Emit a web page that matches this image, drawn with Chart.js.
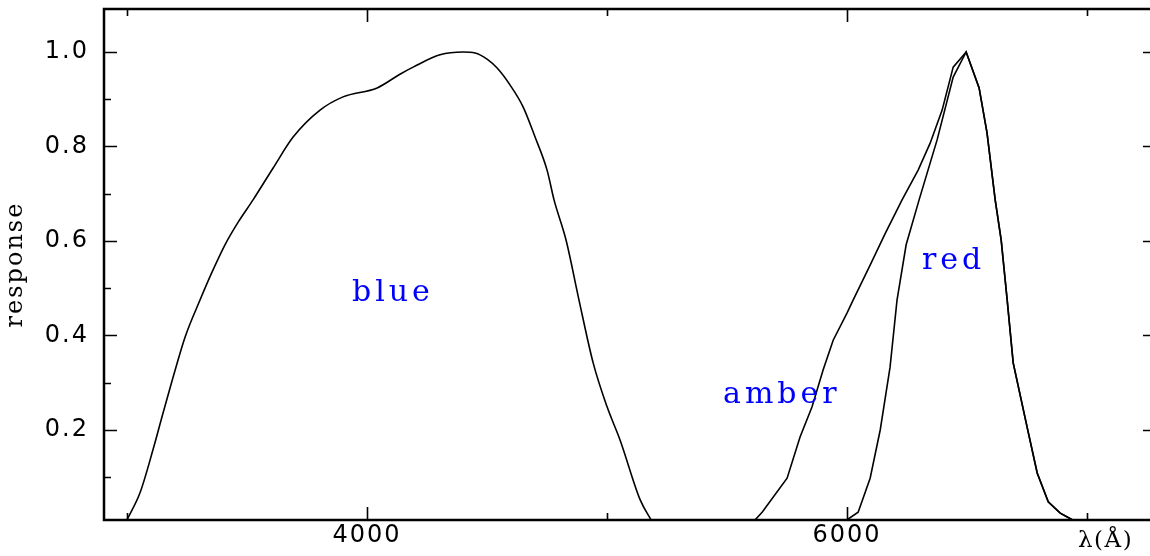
<!DOCTYPE html>
<html>
<head>
<meta charset="utf-8">
<title>Filter response</title>
<script src="https://cdn.jsdelivr.net/npm/chart.js@4.4.0/dist/chart.umd.min.js"></script>
<style>
  html, body { margin: 0; padding: 0; background: #fff; }
  #wrap { width: 1150px; height: 556px; position: relative; }
</style>
</head>
<body>
<div id="wrap"><canvas id="filterChart"></canvas></div>
<script>
// Filter response curves, wavelength in Angstrom, response normalised to 1

const blueWave = [3000, 3054, 3108, 3150, 3192, 3242, 3304, 3354, 3408, 3463, 3525, 3608, 3692, 3804, 3900,
  4042, 4137, 4192, 4304, 4400, 4450, 4500, 4542, 4596, 4650, 4700, 4750, 4779, 4829, 4883, 4942, 5000,
  5054, 5138, 5183];
const blueResp = [0.010, 0.067, 0.158, 0.236, 0.312, 0.397, 0.475, 0.534, 0.592, 0.640, 0.687, 0.754, 0.820, 0.877, 0.905,
  0.924, 0.953, 0.968, 0.994, 1.000, 0.998, 0.985, 0.966, 0.930, 0.884, 0.820, 0.750, 0.687, 0.602, 0.475, 0.342, 0.249,
  0.179, 0.052, 0.010];

const amberWave = [5617, 5646, 5750, 5804, 5854, 5900, 5942, 6000, 6025, 6096, 6158, 6229, 6296, 6346, 6396, 6442,
  6496, 6550, 6583, 6617, 6642, 6667, 6692, 6750, 6792, 6838, 6888, 6938];
const amberResp = [0.010, 0.026, 0.098, 0.185, 0.249, 0.327, 0.390, 0.448, 0.475, 0.549, 0.615, 0.687, 0.750, 0.807, 0.877, 0.968,
  1.000, 0.924, 0.829, 0.687, 0.602, 0.475, 0.342, 0.206, 0.109, 0.048, 0.024, 0.010];

const redWave = [6000, 6046, 6096, 6138, 6179, 6208, 6246, 6300, 6375, 6442, 6496, 6550, 6583, 6617, 6642, 6667,
  6692, 6750, 6792, 6838, 6888, 6938];
const redResp = [0.010, 0.026, 0.098, 0.200, 0.333, 0.475, 0.592, 0.687, 0.814, 0.947, 1.000, 0.924, 0.829, 0.687, 0.602, 0.475,
  0.342, 0.206, 0.109, 0.048, 0.024, 0.010];

// axis ticks
const xMajorTicks = [4000, 6000];
const xMinorTicks = [3000, 5000, 7000];
const yMajorTicks = [0.2, 0.4, 0.6, 0.8, 1.0];
const yMinorTicks = [0.1, 0.3, 0.5, 0.7, 0.9];

// curve names, placed in data units
const curveNames = ["blue", "amber", "red"];
const curveNameWave = [3937, 5483, 6312];
const curveNameResp = [0.472, 0.257, 0.541];

function toPoints(wave, resp) {
  return wave.map((w, i) => ({ x: w, y: resp[i] }));
}

// box, inward ticks and the text labels
const frameTicks = {
  id: "frameTicks",
  beforeDraw(chart) {
    chart.ctx.letterSpacing = "2px";
  },
  afterDraw(chart) {
    const ctx = chart.ctx;
    const a = chart.chartArea;
    const x = chart.scales.x;
    const y = chart.scales.y;

    ctx.save();
    ctx.strokeStyle = "#000";
    ctx.lineCap = "square";
    ctx.lineWidth = 2.5;
    ctx.beginPath();
    ctx.moveTo(a.right, a.top);
    ctx.lineTo(a.left, a.top);
    ctx.lineTo(a.left, a.bottom);
    ctx.lineTo(a.right, a.bottom);
    ctx.stroke();

    ctx.lineCap = "butt";
    ctx.lineWidth = 1.6;
    ctx.beginPath();
    xMajorTicks.concat(xMinorTicks).forEach((v) => {
      const len = xMajorTicks.includes(v) ? 13 : 7;
      const px = Math.round(x.getPixelForValue(v)) + 0.5;
      ctx.moveTo(px, a.bottom);
      ctx.lineTo(px, a.bottom - len);
      ctx.moveTo(px, a.top);
      ctx.lineTo(px, a.top + len);
    });
    yMajorTicks.concat(yMinorTicks).forEach((v) => {
      const major = yMajorTicks.includes(v);
      const len = major ? 13 : 7;
      const py = Math.round(y.getPixelForValue(v)) + 0.5;
      ctx.moveTo(a.left, py);
      ctx.lineTo(a.left + len, py);
      if (major) {
        ctx.moveTo(a.right, py);
        ctx.lineTo(a.right - 7, py);
      }
    });
    ctx.stroke();

    // curve names
    ctx.letterSpacing = "4px";
    ctx.fillStyle = "#0000ff";
    ctx.font = "30px 'DejaVu Serif'";
    ctx.textAlign = "left";
    ctx.textBaseline = "alphabetic";
    curveNames.forEach((name, i) => {
      ctx.fillText(name, x.getPixelForValue(curveNameWave[i]), y.getPixelForValue(curveNameResp[i]));
    });

    // x axis name sits on the tick label line, next to 7000
    ctx.letterSpacing = "1.5px";
    ctx.fillStyle = "#000";
    ctx.font = "23px 'DejaVu Serif'";
    ctx.fillText("λ(Å)", x.getPixelForValue(6962), a.bottom + 27);
    ctx.restore();
  },
};

const lineStyle = {
  borderColor: "#000",
  borderWidth: 1.6,
  pointRadius: 0,
  tension: 0,
  fill: false,
  showLine: true,
};

new Chart(document.getElementById("filterChart").getContext("2d"), {
  type: "scatter",
  data: {
    datasets: [
      { label: "blue", data: toPoints(blueWave, blueResp), ...lineStyle, cubicInterpolationMode: "monotone" },
      { label: "amber", data: toPoints(amberWave, amberResp), ...lineStyle },
      { label: "red", data: toPoints(redWave, redResp), ...lineStyle },
    ],
  },
  options: {
    responsive: true,
    maintainAspectRatio: false,
    animation: false,
    layout: { padding: { top: 9, left: 0, right: 0, bottom: 0 } },
    plugins: {
      legend: { display: false },
      tooltip: { enabled: false },
    },
    scales: {
      x: {
        type: "linear",
        min: 2904,
        max: 7262,
        afterBuildTicks(scale) {
          scale.ticks = xMajorTicks.map((v) => ({ value: v }));
        },
        afterFit(scale) {
          scale.height = 36;
          scale.paddingLeft = 0;
          scale.paddingRight = 0;
        },
        grid: { display: false, drawTicks: false },
        border: { display: false },
        ticks: {
          padding: 1,
          maxRotation: 0,
          color: "#000",
          font: { family: "DejaVu Sans", size: 24 },
          callback: (v) => String(v),
        },
      },
      y: {
        type: "linear",
        min: 0.0095,
        max: 1.091,
        afterBuildTicks(scale) {
          scale.ticks = yMajorTicks.map((v) => ({ value: v }));
        },
        afterFit(scale) {
          scale.width = 104;
          scale.paddingTop = 0;
          scale.paddingBottom = 0;
        },
        grid: { display: false, drawTicks: false },
        border: { display: false },
        title: {
          display: true,
          text: "response",
          color: "#000",
          font: { family: "DejaVu Serif", size: 24 },
          padding: { top: 1, bottom: 0 },
        },
        ticks: {
          padding: 15,
          color: "#000",
          font: { family: "DejaVu Sans", size: 24 },
          callback: (v) => Number(v).toFixed(1),
        },
      },
    },
  },
  plugins: [frameTicks],
});
</script>
</body>
</html>
